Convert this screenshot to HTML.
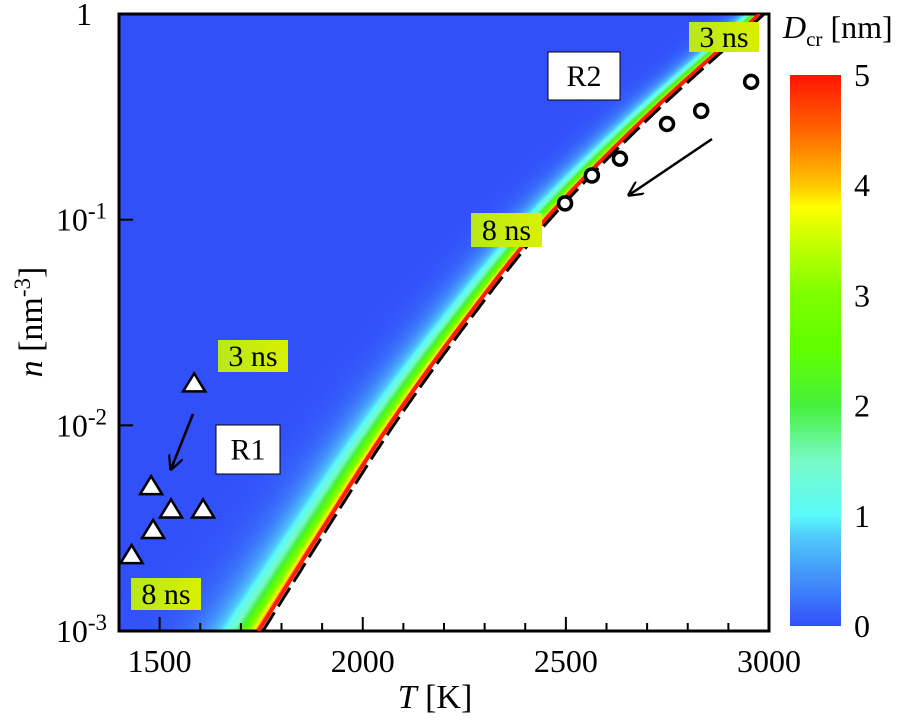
<!DOCTYPE html>
<html><head><meta charset="utf-8"><style>
html,body{margin:0;padding:0;background:#fff;}
#wrap{position:relative;width:900px;height:725px;overflow:hidden;}
canvas{position:absolute;left:0;top:0;}
svg{position:absolute;left:0;top:0;}
svg text{font-family:"Liberation Serif","Times New Roman",Times,"DejaVu Serif",serif;}
</style></head><body>
<div id="wrap">
<canvas id="heat" width="900" height="725"></canvas>
<svg id="svg" width="900" height="725">
<defs>
<linearGradient id="cbar" x1="0" y1="1" x2="0" y2="0">
<stop offset="0" stop-color="rgb(50,80,250)"/>
<stop offset="0.16" stop-color="rgb(80,200,250)"/>
<stop offset="0.2" stop-color="rgb(90,250,250)"/>
<stop offset="0.3" stop-color="rgb(120,250,200)"/>
<stop offset="0.4" stop-color="rgb(70,240,60)"/>
<stop offset="0.5" stop-color="rgb(95,255,0)"/>
<stop offset="0.6" stop-color="rgb(125,255,0)"/>
<stop offset="0.7" stop-color="rgb(200,255,0)"/>
<stop offset="0.76" stop-color="rgb(255,255,0)"/>
<stop offset="0.8" stop-color="rgb(255,200,0)"/>
<stop offset="0.9" stop-color="rgb(255,100,0)"/>
<stop offset="1" stop-color="rgb(255,20,0)"/>
</linearGradient>
<linearGradient id="lab" x1="0" y1="0" x2="1" y2="0">
<stop offset="0" stop-color="#b8e81a"/><stop offset="1" stop-color="#d8f000"/>
</linearGradient>
<marker id="ah" viewBox="0 0 10 10" refX="9" refY="5" markerWidth="6" markerHeight="6" orient="auto"><path d="M0,0 L10,5 L0,10" fill="none" stroke="#000" stroke-width="1.5"/></marker>
</defs>
<g id="axes"></g>
<g id="marks"></g>
</svg>
</div>
<script>
// ---- data ----
const boundaryLogN = [-3, -2.5, -2, -1.5, -1, -0.5, 0];
const boundaryT = [1746, 1905, 2068, 2250, 2452, 2700, 2980];
const triT = [1585, 1479, 1528, 1607, 1484, 1431];
const triN = [0.016, 0.00506, 0.0039, 0.0039, 0.0031, 0.00234];
const circT = [2498, 2564, 2633, 2749, 2833, 2956];
const circN = [0.12, 0.164, 0.198, 0.292, 0.338, 0.468];
const xTicks = [1500, 2000, 2500, 3000];
const yTickExp = [-3, -2, -1, 0];
const cbTicks = [0, 1, 2, 3, 4, 5];

// ---- axes functions ----
const X0 = 119, X1 = 769, Y0 = 631, Y1 = 14;
const TMIN = 1400, TMAX = 3000, LMIN = -3, LMAX = 0;
function xs(T){ return X0 + (T - TMIN) / (TMAX - TMIN) * (X1 - X0); }
function ys(n){ return Y0 - (Math.log10(n) - LMIN) / (LMAX - LMIN) * (Y0 - Y1); }
function ysL(l){ return Y0 - (l - LMIN) / (LMAX - LMIN) * (Y0 - Y1); }
function tInv(x){ return TMIN + (x - X0) / (X1 - X0) * (TMAX - TMIN); }
function lInv(y){ return LMIN + (Y0 - y) / (Y0 - Y1) * (LMAX - LMIN); }
function slope(i){
  const n = boundaryLogN.length;
  const a = Math.max(0, i - 1), b = Math.min(n - 1, i + 1);
  return (boundaryT[b] - boundaryT[a]) / (boundaryLogN[b] - boundaryLogN[a]);
}
function tb(l){
  const n = boundaryLogN.length;
  let i = 0;
  while (i < n - 2 && l > boundaryLogN[i+1]) i++;
  const x0 = boundaryLogN[i], x1 = boundaryLogN[i+1], h = x1 - x0;
  const t = (l - x0) / h;
  const h00 = 2*t*t*t - 3*t*t + 1, h10 = t*t*t - 2*t*t + t, h01 = -2*t*t*t + 3*t*t, h11 = t*t*t - t*t;
  return h00*boundaryT[i] + h10*h*slope(i) + h01*boundaryT[i+1] + h11*h*slope(i+1);
}
const stops = [[0,50,80,250],[0.8,80,200,250],[1,90,250,250],[1.5,120,250,200],[2,70,240,60],[2.5,95,255,0],[3,125,255,0],[3.5,200,255,0],[3.8,255,255,0],[4,255,200,0],[4.5,255,100,0],[5,255,20,0]];
function cmap(D){
  if (D <= 0) return [stops[0][1],stops[0][2],stops[0][3]];
  for (let i = 0; i < stops.length - 1; i++){
    if (D <= stops[i+1][0]){
      const f = (D - stops[i][0]) / (stops[i+1][0] - stops[i][0]);
      return [0,1,2].map(k => stops[i][k+1] + f * (stops[i+1][k+1] - stops[i][k+1]));
    }
  }
  const s = stops[stops.length-1]; return [s[1],s[2],s[3]];
}
const ctx = document.getElementById('heat').getContext('2d');
const img = ctx.createImageData(X1 - X0, Y0 - Y1);
for (let py = 0; py < Y0 - Y1; py++){
  const l = lInv(Y1 + py + 0.5);
  const b = tb(l);
  const w = 1 - 0.6 * (l - LMIN) / (LMAX - LMIN);
  for (let px = 0; px < X1 - X0; px++){
    const T = tInv(X0 + px + 0.5);
    const d = b - T;
    const i = (py * (X1 - X0) + px) * 4;
    if (d < 0){ img.data[i]=255; img.data[i+1]=255; img.data[i+2]=255; }
    else {
      const D = 5 * Math.exp(-d / (55 * w));
      const c = cmap(D);
      img.data[i]=c[0]; img.data[i+1]=c[1]; img.data[i+2]=c[2];
    }
    img.data[i+3] = 255;
  }
}
ctx.putImageData(img, X0, Y1);

const NS = 'http://www.w3.org/2000/svg';
const axes = document.getElementById('axes');
const marks = document.getElementById('marks');
function mk(tag, attrs, parent, text){
  const e = document.createElementNS(NS, tag);
  for (const k in attrs) e.setAttribute(k, attrs[k]);
  if (text !== undefined) e.textContent = text;
  parent.appendChild(e); return e;
}
const cp = mk('clipPath', {id:'pc'}, document.querySelector('defs'));
mk('rect', {x:X0, y:Y1, width:X1-X0, height:Y0-Y1}, cp);
let redPts = [], dashPts = [];
for (let l = LMIN; l <= LMAX + 1e-9; l += 0.01){
  redPts.push(xs(tb(l) - 3).toFixed(1) + ',' + ysL(l).toFixed(1));
  dashPts.push(xs(tb(l) + 8).toFixed(1) + ',' + ysL(l).toFixed(1));
}
const red = mk('polyline', {points: redPts.join(' '), fill:'none', stroke:'#ff1a00', 'stroke-width':4, 'clip-path':'url(#pc)'}, marks);


const dash = mk('polyline', {points: dashPts.join(' '), fill:'none', stroke:'#000', 'stroke-width':3, 'stroke-dasharray':'22,7', 'clip-path':'url(#pc)'}, marks);



const frame = mk('rect', {x:X0, y:Y1, width:X1-X0, height:Y0-Y1, fill:'none', stroke:'#000', 'stroke-width':3}, axes);


for (let T = 1500; T < 3000; T += 100){
  const major = T % 500 === 0;
  const t = mk('line', {x1:xs(T), x2:xs(T), y1:Y0, y2:Y0 - (major ? 14 : 8), stroke:'#000', 'stroke-width':2}, axes);
  
  
}
xTicks.forEach(T => {
  const t = mk('text', {x:xs(T), y:672, 'text-anchor':'middle', 'font-size':32}, axes, String(T));
  
  
});
yTickExp.forEach(e => {
  const y = ysL(e);
  const t = mk('line', {x1:X0, x2:X0 + 14, y1:y, y2:y, stroke:'#000', 'stroke-width':2}, axes);
  
  
  const lb = mk('text', {x: e === 0 ? 92 : 107, y: y + 11, 'text-anchor':'end', 'font-size':32}, axes);
  
  
  if (e === 0) lb.textContent = '1';
  else { lb.textContent = '10'; mk('tspan', {dy:-12, 'font-size':23}, lb, String(e)); }
});
const xt = mk('text', {x:435, y:708, 'text-anchor':'middle', 'font-size':34}, axes);


mk('tspan', {'font-style':'italic'}, xt, 'T');
mk('tspan', {}, xt, ' [K]');
const yt = mk('text', {x:0, y:0, 'text-anchor':'middle', 'font-size':34, transform:'translate(42,322) rotate(-90)'}, axes);


mk('tspan', {'font-style':'italic'}, yt, 'n');
mk('tspan', {}, yt, ' [nm');
mk('tspan', {dy:-12, 'font-size':23}, yt, '-3');
mk('tspan', {dy:12}, yt, ']');

const CB0 = 626, CB1 = 75;
const cb = mk('rect', {x:790, y:CB1, width:51, height:CB0-CB1, fill:'url(#cbar)'}, axes);


cbTicks.forEach(v => {
  const t = mk('text', {x:854, y:CB0 - v/5*(CB0-CB1) + 11, 'font-size':32}, axes, String(v));
  
  
});
const cbt = mk('text', {x:783, y:38, 'font-size':32}, axes);


mk('tspan', {'font-style':'italic'}, cbt, 'D');
mk('tspan', {dy:8, 'font-size':21}, cbt, 'cr');
mk('tspan', {dy:-8}, cbt, ' [nm]');

triT.forEach((T, i) => {
  const x = xs(T), y = ys(triN[i]);
  const p = mk('polygon', {points:`${x},${y-10} ${x-11},${y+8} ${x+11},${y+8}`, fill:'#fff', stroke:'#000', 'stroke-width':2.5}, marks);
  
  
});
circT.forEach((T, i) => {
  const c = mk('circle', {cx:xs(T), cy:ys(circN[i]), r:6.5, fill:'#fff', stroke:'#000', 'stroke-width':3.5}, marks);
  
  
});
const a1 = mk('line', {x1:712, y1:139, x2:629, y2:195, stroke:'#000', 'stroke-width':2.5, 'marker-end':'url(#ah)'}, marks);


const a2 = mk('line', {x1:193, y1:414, x2:171, y2:469, stroke:'#000', 'stroke-width':2.5, 'marker-end':'url(#ah)'}, marks);


function box(x, y, w, h, fill, text, name, stroke){
  const g = mk('g', {}, marks);
  
  
  mk('rect', {x, y, width:w, height:h, fill, stroke: stroke || 'none', 'stroke-width':1}, g);
  mk('text', {x:x + w/2, y:y + h/2 + 10, 'text-anchor':'middle', 'font-size':30}, g, text);
}
box(689, 22, 70, 30, 'url(#lab)', '3 ns', 'label-3ns-r2');
box(471, 213, 71, 34, 'url(#lab)', '8 ns', 'label-8ns-r2');
box(218, 340, 70, 32, 'url(#lab)', '3 ns', 'label-3ns-r1');
box(131, 578, 70, 32, 'url(#lab)', '8 ns', 'label-8ns-r1');
box(548, 52, 72, 48, '#fff', 'R2', 'region-r2-label', '#000');
box(216, 425, 64, 49, '#fff', 'R1', 'region-r1-label', '#000');
</script>
</body></html>
